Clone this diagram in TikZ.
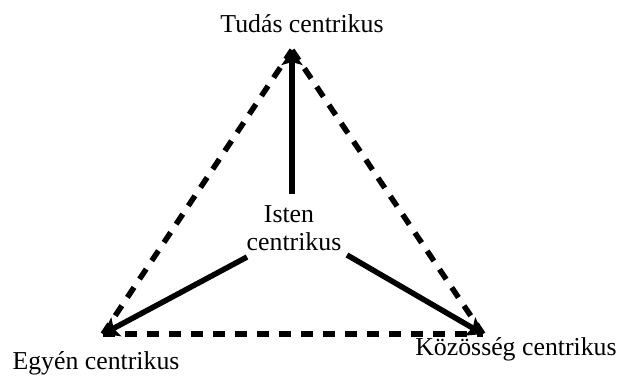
\documentclass[tikz,border=0pt]{standalone}
\usepackage{fontspec}
\setmainfont{Liberation Serif}
\usetikzlibrary{arrows.meta}
\begin{document}
\begin{tikzpicture}[x=1pt,y=-1pt,
  lbl/.style={font=\fontsize{25.8}{30}\selectfont, inner sep=0pt, anchor=base},
  solidarrow/.style={line width=5.5pt, -{Stealth[length=15pt,width=21pt,inset=3pt]}},
  dashedline/.style={line width=5.5pt, dash pattern=on 12pt off 10pt}]
\useasboundingbox (0,0) rectangle (618,376);
\coordinate (top) at (292,50);
\coordinate (left) at (103,334);
\coordinate (right) at (483,334);
\coordinate (s1) at (292,194);
\coordinate (s2) at (247,257);
\coordinate (s3) at (347,255);
\draw[dashedline] (left) -- (top);
\draw[dashedline] (right) -- (top);
\draw[dashedline] (left) -- (right);
\draw[solidarrow] (s1) -- (top);
\draw[solidarrow] (s2) -- (left);
\draw[solidarrow] (s3) -- (right);
\node[lbl] (tudas) at (302,32) {Tudás centrikus};
\node[lbl] (isten1) at (289,222) {Isten};
\node[lbl] (isten2) at (294,250) {centrikus};
\node[lbl] (egyen) at (96,369) {Egyén centrikus};
\node[lbl] (kozosseg) at (516,355) {Közösség centrikus};
\end{tikzpicture}
\end{document}
